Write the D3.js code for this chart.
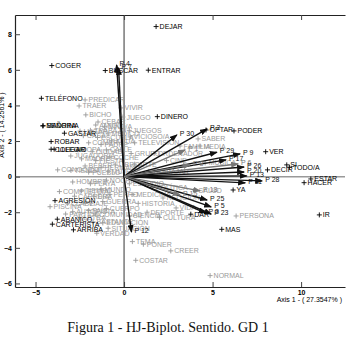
<!DOCTYPE html>
<html>
<head>
<meta charset="utf-8">
<script src="https://cdn.jsdelivr.net/npm/d3@7"></script>
<style>
  body { margin: 0; background: #fff; }
  .lbl { font-family: "Liberation Sans", Arial, sans-serif; font-size: 7px; }
  .tick text { font-family: "Liberation Sans", Arial, sans-serif; font-size: 7px; font-weight: bold; }
</style>
</head>
<body>
<svg id="chart"></svg>
<script>
// Axis ticks
const xTicks = [-5, 0, 5, 10];
const yTicks = [-6, -4, -2, 0, 2, 4, 6, 8];

// Rows / words in black (name, axis1, axis2)
const blackNames = ["DEJAR", "COGER", "BUSCAR", "ENTRAR", "TELÉFONO", "DINERO", "MADRINA", "SEÑORA",
  "GASTAR", "ROBAR", "COLEGIO", "LLEGAR", "OPTAR", "PODER", "VER", "DECIR", "SI", "TODO/A",
  "ESTAR", "HACER", "IR", "MAS", "DAR", "YA", "AGRESIÓN", "CARTERISTA", "ABANICO", "ARRIBA"];
const blackX = [1.81, -4.08, -1.06, 1.37, -4.67, 1.88, -4.59, -4.57,
  -3.37, -4.12, -4.12, -3.95, 4.63, 6.21, 8.0, 8.10, 9.19, 9.34,
  10.55, 10.17, 11.03, 5.52, 3.77, 6.16, -3.90, -4.05, -3.77, -2.86];
const blackY = [8.43, 6.24, 5.96, 5.98, 4.40, 3.37, 2.85, 2.86,
  2.44, 1.97, 1.54, 1.54, 2.62, 2.57, 1.40, 0.38, 0.66, 0.53,
  -0.13, -0.34, -2.15, -2.96, -2.11, -0.75, -1.35, -2.67, -2.39, -2.99];

// Words in grey
const greyNames = ["PREDICAR", "TRAER", "BICHO", "VIVIR", "JUEGO", "CEBAR", "LUGAR", "JUGADOR/A",
  "CONOCIDO", "COMPLETO/A", "PISCINA", "AUTOPISTA", "BASTANTE", "VERDAD", "TEMA", "PONER",
  "CREER", "COSTAR", "NORMAL", "PERSONA", "SABER", "VICIOSO/A", "FAMILIA", "MEDIA", "MÚSICA",
  "SALUD", "VIDA",
  "AMIGO", "TRABAJO", "NIÑO/A", "CASA", "ESCUELA", "MÉDICO", "COMER", "PADRE", "AGUA", "ROPA",
  "CIUDAD", "CALLE", "MADRE", "FIESTA", "COCHE", "BEBER", "HERMANO", "TIENDA", "PUEBLO", "MUJER",
  "LIBRO", "HOMBRE", "PLAYA", "NOCHE", "TIEMPO", "MUNDO", "CARRERA", "DÍA", "PERRO", "CLASE",
  "VIAJE", "GUERRA", "PAÍS", "CUERPO", "LETRA", "COMUNIDAD", "EDUCACIÓN", "SITUACIÓN", "PARTIDO",
  "JUEGOS", "TELEVISIÓN", "ORDENADOR", "GRUPO", "CINE", "ARTE", "TRABAJAR", "ESTUDIO", "POLÍTICA",
  "MEDICINA", "RELIGIÓN", "HISTORIA", "DEPORTE", "CIENCIA", "CULTURA"];
const greyX = [-2.20, -2.54, -2.16, -0.17, -0.06, -1.47, -2.49, -3.01,
  -3.75, -3.65, -4.18, -2.90, -1.75, -1.54, 0.47, 1.09,
  2.64, 0.66, 4.86, 6.33, 4.18, 0.34, 3.16, 4.29, 4.58,
  4.01, 2.94,
  -1.6, -1.9, -1.1, -2.3, -1.5, -0.9, -2.0, -1.3, -0.7, -2.6,
  -1.8, -1.0, -2.4, -1.6, -0.8, -2.2, -1.3, -3.0, -2.0, -0.9,
  -0.5, -2.9, -1.9, -1.0, -2.4, -1.3, -2.8, -1.7, -0.8, -3.2,
  -2.2, -1.2, -2.0, -1.0, -2.5, -1.6, -1.2, -0.9, -3.3,
  0.3, 0.6, 1.7, 0.4, 2.4, 0.6, 1.4, 0.3, 1.6,
  0.5, 2.2, 0.8, 1.3, 0.3, 2.0];
const greyY = [4.31, 3.97, 3.47, 3.86, 3.35, 3.07, 2.56, 1.16,
  0.38, -0.84, -1.69, -1.97, -2.54, -3.18, -3.65, -3.80,
  -4.17, -4.70, -5.56, -2.21, 2.12, 2.23, 1.72, 1.72, 0.77,
  -0.80, -1.76,
  2.9, 2.6, 2.8, 2.3, 2.2, 2.4, 1.9, 1.8, 2.0, 1.5,
  1.4, 1.5, 1.0, 0.9, 1.1, 0.6, 0.5, 0.35, 0.25, 0.3,
  0.7, -0.3, -0.4, -0.2, -0.8, -0.7, -1.1, -1.1, -1.0, -1.5,
  -1.5, -1.4, -1.9, -1.8, -2.3, -2.1, -2.6, -2.9, -2.1,
  2.6, 1.9, 1.3, 1.3, 0.9, 0.7, 0.3, -0.4, -0.6,
  -1.0, -1.2, -1.5, -2.0, -2.2, -2.3];

// Column vectors (arrows)
const arrowNames = ["P 4", "P 7", "P 30", "P 2", "P 29", "P 9", "P 17", "P 6", "P 26", "P 20",
  "P 13", "P 11", "P 28", "P 18", "P 25", "P 5", "P 23", "P 3", "P 12", "P 1", "P 8", "P 15"];
const arrowX = [-0.42, -0.31, 2.98, 4.69, 5.24, 6.55, 5.76, 6.44, 6.78, 6.78,
  6.93, 6.84, 7.80, 4.29, 4.69, 4.92, 4.92, 4.60, 0.42, 3.45, 3.73, 3.16];
const arrowY = [6.27, 6.11, 2.34, 2.68, 1.37, 1.28, 0.94, 0.71, 0.54, 0.26,
  0.04, -0.35, -0.24, -0.80, -1.31, -1.70, -2.10, -2.05, -3.11, 1.50, 0.66, -1.03];
const arrowGrey = [false, false, false, false, false, false, false, true, false, false,
  false, false, false, true, false, false, false, false, false, true, true, true];

// Size
const width = 360;
const height = 351;
const plot = { left: 15, right: 345, top: 15, bottom: 287 };

const svg = d3.select("#chart")
    .attr("width", width)
    .attr("height", height);

const x = d3.scaleLinear().domain([-6.16, 12.48]).range([plot.left, plot.right]);
const y = d3.scaleLinear().domain([9.08, -6.2]).range([plot.top, plot.bottom]);

// Zero lines
svg.append("line")
    .attr("x1", plot.left).attr("x2", plot.right)
    .attr("y1", y(0)).attr("y2", y(0))
    .attr("stroke", "#999").attr("stroke-width", 1.5);
svg.append("line")
    .attr("x1", x(0)).attr("x2", x(0))
    .attr("y1", plot.top).attr("y2", plot.bottom)
    .attr("stroke", "#333").attr("stroke-width", 1);

// Axes
const axL = svg.append("g")
    .attr("transform", `translate(${plot.left},0)`)
    .call(d3.axisLeft(y).tickValues(yTicks).tickSizeInner(-5).tickSizeOuter(0).tickPadding(3));
const axB = svg.append("g")
    .attr("transform", `translate(0,${plot.bottom})`)
    .call(d3.axisBottom(x).tickValues(xTicks).tickSizeInner(-5).tickSizeOuter(0).tickPadding(3));
const axT = svg.append("g")
    .attr("transform", `translate(0,${plot.top})`)
    .call(d3.axisTop(x).tickValues(xTicks).tickSizeInner(-5).tickSizeOuter(0).tickFormat(""));
[axL, axB, axT].forEach(a => {
    a.select(".domain").attr("stroke", "#222").attr("stroke-width", 1.2);
    a.selectAll(".tick line").attr("stroke", "#444");
});

// Axis titles
svg.append("text")
    .attr("class", "lbl")
    .attr("x", 342).attr("y", 302)
    .attr("text-anchor", "end")
    .text("Axis 1 - ( 27.3547% )");
svg.append("text")
    .attr("class", "lbl")
    .attr("transform", "rotate(-90)")
    .attr("x", -125).attr("y", 4)
    .attr("text-anchor", "middle")
    .text("Axis 2 - ( 14.2561% )");

// Arrow heads
const defs = svg.append("defs");
[["headBlack", "#111"], ["headGrey", "#777"]].forEach(([id, c]) => {
    defs.append("marker")
        .attr("id", id)
        .attr("viewBox", "0 0 8 6")
        .attr("refX", 7).attr("refY", 3)
        .attr("markerWidth", 8).attr("markerHeight", 6)
        .attr("markerUnits", "userSpaceOnUse")
        .attr("orient", "auto")
        .append("path").attr("d", "M0,0L8,3L0,6z").attr("fill", c);
});

// Grey points first (behind)
function drawPoints(names, xs, ys, color) {
    const g = svg.append("g");
    names.forEach((n, i) => {
        const px = x(xs[i]), py = y(ys[i]);
        g.append("path")
            .attr("d", `M${px - 2.5},${py}H${px + 2.5}M${px},${py - 2.5}V${py + 2.5}`)
            .attr("stroke", color).attr("stroke-width", 0.9);
        g.append("text")
            .attr("class", "lbl")
            .attr("x", px + 3.5).attr("y", py + 2.5)
            .attr("fill", color)
            .text(n);
    });
}
drawPoints(greyNames, greyX, greyY, "#9a9a9a");

// Arrows
const ga = svg.append("g");
arrowNames.forEach((n, i) => {
    const c = arrowGrey[i] ? "#777" : "#111";
    ga.append("line")
        .attr("x1", x(0)).attr("y1", y(0))
        .attr("x2", x(arrowX[i])).attr("y2", y(arrowY[i]))
        .attr("stroke", c).attr("stroke-width", 1.4)
        .attr("marker-end", `url(#${arrowGrey[i] ? "headGrey" : "headBlack"})`);
    ga.append("text")
        .attr("class", "lbl")
        .attr("x", x(arrowX[i]) + 3).attr("y", y(arrowY[i]) + 1)
        .attr("fill", c)
        .text(n);
});

drawPoints(blackNames, blackX, blackY, "#000");

// Caption
svg.append("text")
    .attr("x", 168).attr("y", 332)
    .attr("text-anchor", "middle")
    .style("font-family", "'Liberation Serif', 'DejaVu Serif', serif")
    .style("font-size", "14px")
    .attr("fill", "#111")
    .text("Figura 1 - HJ-Biplot. Sentido. GD 1");
</script>
</body>
</html>
